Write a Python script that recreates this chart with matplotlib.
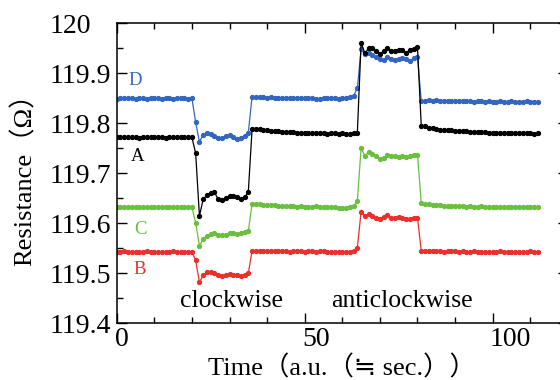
import numpy as np
import matplotlib
matplotlib.use("Agg")
import matplotlib.pyplot as plt
import matplotlib.transforms as mtransforms
from matplotlib.ticker import MultipleLocator

# sample index (a.u. ~ sec.)
time = np.arange(0, 113)

# resistance of the four sensors (ohm)
res_D = [119.849, 119.850, 119.850, 119.851, 119.850, 119.849, 119.850, 119.850, 119.849, 119.850, 119.850,
	119.850, 119.849, 119.850, 119.850, 119.849, 119.850, 119.850, 119.850, 119.849, 119.850,
	119.802,
	119.763, 119.777, 119.781, 119.779, 119.775, 119.771, 119.770, 119.774, 119.776, 119.773, 119.768, 119.770, 119.775, 119.781,
	119.853, 119.853, 119.852, 119.852, 119.851, 119.852, 119.851, 119.851, 119.850, 119.851, 119.851, 119.850, 119.850, 119.851,
	119.850, 119.851, 119.850, 119.849, 119.849, 119.850, 119.850, 119.851, 119.850, 119.849, 119.850, 119.851, 119.852, 119.855,
	119.870,
	119.948, 119.938, 119.941, 119.936, 119.932, 119.928, 119.927, 119.932, 119.928, 119.927, 119.929, 119.930, 119.928, 119.924, 119.930, 119.932,
	119.845, 119.845, 119.846, 119.845, 119.846, 119.845, 119.844, 119.844, 119.845, 119.844, 119.844, 119.845, 119.844, 119.844, 119.843, 119.844,
	119.844, 119.843, 119.844, 119.843, 119.843, 119.844, 119.843, 119.843, 119.844, 119.843, 119.843, 119.843, 119.844, 119.843, 119.843, 119.843]

res_A = [119.772, 119.773, 119.772, 119.772, 119.773, 119.772, 119.771, 119.772, 119.772, 119.772, 119.773,
	119.772, 119.772, 119.771, 119.772, 119.772, 119.772, 119.773, 119.772, 119.772, 119.772,
	119.740,
	119.615, 119.648, 119.656, 119.660, 119.662, 119.648, 119.646, 119.650, 119.654, 119.655, 119.652, 119.649, 119.652, 119.662,
	119.788, 119.789, 119.789, 119.787, 119.786, 119.785, 119.785, 119.784, 119.783, 119.783, 119.782, 119.782, 119.781, 119.781,
	119.781, 119.780, 119.780, 119.781, 119.780, 119.780, 119.779, 119.780, 119.780, 119.779, 119.780, 119.779, 119.778, 119.780,
	119.781,
	119.961, 119.940, 119.950, 119.951, 119.944, 119.939, 119.944, 119.950, 119.944, 119.945, 119.947, 119.946, 119.941, 119.947, 119.949, 119.952,
	119.795, 119.794, 119.790, 119.790, 119.789, 119.787, 119.787, 119.786, 119.786, 119.785, 119.784, 119.784, 119.784, 119.783, 119.782, 119.783,
	119.782, 119.782, 119.781, 119.781, 119.781, 119.780, 119.780, 119.780, 119.780, 119.780, 119.780, 119.780, 119.780, 119.780, 119.779, 119.780]

res_C = [119.632, 119.632, 119.633, 119.632, 119.632, 119.633, 119.632, 119.632, 119.632, 119.633, 119.632,
	119.632, 119.632, 119.633, 119.632, 119.632, 119.632, 119.633, 119.632, 119.632, 119.632,
	119.601,
	119.555, 119.568, 119.575, 119.579, 119.580, 119.577, 119.576, 119.577, 119.580, 119.580, 119.579, 119.580, 119.582, 119.584,
	119.639, 119.638, 119.638, 119.637, 119.637, 119.636, 119.636, 119.635, 119.635, 119.634, 119.634, 119.634, 119.633, 119.634,
	119.633, 119.633, 119.633, 119.634, 119.633, 119.632, 119.633, 119.632, 119.633, 119.631, 119.630, 119.631, 119.633, 119.634,
	119.645,
	119.750, 119.735, 119.743, 119.739, 119.734, 119.728, 119.731, 119.737, 119.734, 119.734, 119.732, 119.734, 119.733, 119.734, 119.736, 119.737,
	119.640, 119.638, 119.638, 119.637, 119.636, 119.636, 119.635, 119.635, 119.635, 119.634, 119.634, 119.634, 119.633, 119.634, 119.633, 119.633,
	119.634, 119.633, 119.633, 119.633, 119.632, 119.633, 119.633, 119.633, 119.632, 119.633, 119.633, 119.632, 119.633, 119.633, 119.632, 119.632]

res_B = [119.543, 119.543, 119.544, 119.543, 119.543, 119.542, 119.543, 119.543, 119.544, 119.543, 119.543,
	119.543, 119.542, 119.543, 119.543, 119.544, 119.543, 119.543, 119.543, 119.542, 119.543,
	119.526,
	119.482, 119.496, 119.502, 119.503, 119.501, 119.497, 119.495, 119.497, 119.498, 119.497, 119.497, 119.495, 119.496, 119.500,
	119.545, 119.545, 119.544, 119.545, 119.544, 119.544, 119.544, 119.545, 119.544, 119.544, 119.543, 119.544, 119.544, 119.544,
	119.543, 119.544, 119.544, 119.543, 119.544, 119.544, 119.543, 119.543, 119.543, 119.542, 119.542, 119.543, 119.543, 119.545,
	119.551,
	119.623, 119.615, 119.618, 119.615, 119.610, 119.609, 119.612, 119.617, 119.611, 119.611, 119.612, 119.611, 119.609, 119.609, 119.611, 119.611,
	119.545, 119.545, 119.544, 119.545, 119.544, 119.544, 119.543, 119.544, 119.544, 119.544, 119.543, 119.544, 119.543, 119.543, 119.544, 119.543,
	119.543, 119.542, 119.543, 119.543, 119.543, 119.544, 119.543, 119.543, 119.543, 119.543, 119.543, 119.543, 119.543, 119.544, 119.543, 119.543]

series_names = ["D", "A", "C", "B"]
series_colors = ["#3366c0", "#000000", "#6abf3e", "#ec2f2c"]

ytick_vals = [119.4, 119.5, 119.6, 119.7, 119.8, 119.9, 120.0]
ytick_text = ["119.4", "119.5", "119.6", "119.7", "119.8", "119.9", "120"]

serif = ["Liberation Serif", "Noto Sans CJK JP", "DejaVu Sans"]
plt.rcParams['font.family'] = serif

fig = plt.figure(figsize=(5.6, 3.8), dpi=100)
ax = fig.add_axes([0.2084, 0.1492, 0.8057, 0.7895])

for name, vals, col in zip(series_names, [res_D, res_A, res_C, res_B], series_colors):
	ax.plot(time, vals, color=col, lw=0.9, marker='o', ms=2.8, mec=col, mfc=col, label=name)

# curve labels
ax.text(4.9, 119.885, "D", color=series_colors[0], fontsize=13.5, ha='center', va='center')
ax.text(5.5, 119.734, "A", color=series_colors[1], fontsize=13.5, ha='center', va='center')
ax.text(6.2, 119.587, "C", color=series_colors[2], fontsize=13.5, ha='center', va='center')
ax.text(6.2, 119.508, "B", color=series_colors[3], fontsize=13.5, ha='center', va='center')

ax.text(30.4, 119.433, "clockwise", fontsize=18.5, ha='center', va='baseline')
ax.text(75.9, 119.433, "anticlockwise", fontsize=18.5, ha='center', va='baseline')

ax.set_xlim(0, 120)
ax.set_ylim(119.4, 120)
ax.xaxis.set_major_locator(MultipleLocator(50))
ax.xaxis.set_minor_locator(MultipleLocator(10))
ax.yaxis.set_minor_locator(MultipleLocator(0.05))
ax.set_yticks(ytick_vals)
ax.set_yticklabels(ytick_text)

ax.tick_params(which='both', direction='in', top=True, right=True, width=1.0, labelsize=20)
ax.tick_params(which='major', length=7)
ax.tick_params(which='minor', length=4)
ax.tick_params(axis='x', pad=3)
# y labels are left aligned in the original
ax.tick_params(axis='y', pad=48)
for lab in ax.get_yticklabels():
	lab.set_horizontalalignment('left')

# x tick labels sit a little right of their ticks in the original
fig.canvas.draw()
shifts = {0: 5, 50: 11, 100: 18}
for tick_val, lab in zip(ax.get_xticks(), ax.get_xticklabels()):
	dx = shifts.get(int(round(tick_val)), 0)
	lab.set_transform(lab.get_transform() + mtransforms.ScaledTranslation(dx / 100, 0, fig.dpi_scale_trans))

for sp in ax.spines.values():
	sp.set_linewidth(1.1)

ax.set_xlabel("Time（a.u.（≒ sec.））", fontsize=19)
ax.xaxis.set_label_coords(0.50, -0.108)
ax.set_ylabel("Resistance（Ω）", fontsize=19)
ax.yaxis.set_label_coords(-0.177, 0.5)

fig.savefig("out.png", dpi=100)
